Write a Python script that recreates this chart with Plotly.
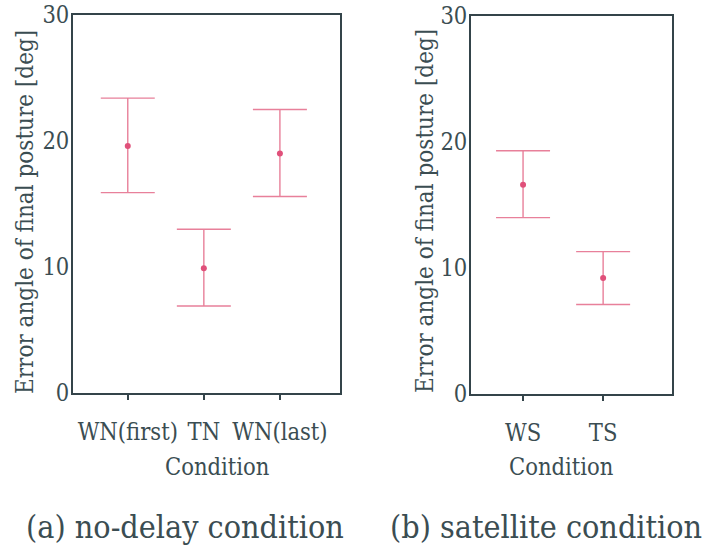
import plotly.graph_objects as go

# ---- data ----
cond_a = ["WN(first)", "TN", "WN(last)"]
mean_a = [19.6, 9.9, 19.0]
upper_a = [23.4, 13.0, 22.5]
lower_a = [15.9, 6.9, 15.6]

cond_b = ["WS", "TS"]
mean_b = [16.6, 9.2]
upper_b = [19.3, 11.3]
lower_b = [14.0, 7.1]

y_ticks = [0, 10, 20, 30]

FONT = "DejaVu Serif Condensed, DejaVu Serif, serif"
TXT = "#3b4d52"
AX = "#34444a"
ERR = "#e8809a"
DOT = "#e0507a"

fig = go.Figure()

def add_panel(cats, mean, up, lo, xa, ya):
    fig.add_trace(go.Scatter(
        x=cats, y=mean, mode="markers", xaxis=xa, yaxis=ya,
        marker=dict(color=DOT, size=6),
        error_y=dict(type="data", symmetric=False,
                     array=[u - m for u, m in zip(up, mean)],
                     arrayminus=[m - l for m, l in zip(mean, lo)],
                     color=ERR, thickness=1.4, width=27),
        showlegend=False))

add_panel(cond_a, mean_a, upper_a, lower_a, "x", "y")
add_panel(cond_b, mean_b, upper_b, lower_b, "x2", "y2")

W, H = 710, 552
def px(x): return x / W
def py(y): return 1 - y / H

xcommon = dict(type="category", showline=True, mirror=True, linecolor=AX, linewidth=2,
               ticks="outside", ticklen=5, tickcolor=AX, tickwidth=1.5,
               showgrid=False, zeroline=False, tickangle=0, ticklabelstandoff=12,
               automargin=False,
               tickfont=dict(family=FONT, size=23.5, color=TXT))
ycommon = dict(range=[0, 30], tickvals=y_ticks, showline=True, mirror=True,
               linecolor=AX, linewidth=2, ticks="", showgrid=False, zeroline=False,
               automargin=False,
               tickfont=dict(family=FONT, size=23.5, color=TXT), ticklabelstandoff=-3)

fig.update_layout(
    width=W, height=H, margin=dict(l=0, r=0, t=0, b=0, autoexpand=False),
    paper_bgcolor="white", plot_bgcolor="white",
    font=dict(family=FONT),
    xaxis=dict(xcommon, domain=[px(73), px(340)], range=[-0.72, 2.79], anchor="y"),
    yaxis=dict(ycommon, domain=[py(393), py(15)], anchor="x"),
    xaxis2=dict(xcommon, domain=[px(471), px(672)], range=[-0.65, 1.86], anchor="y2"),
    yaxis2=dict(ycommon, domain=[py(394), py(16)], anchor="x2"),
)

def ann(text, x, y, size, angle=0):
    fig.add_annotation(text=text, x=px(x), y=py(y), xref="paper", yref="paper",
                       showarrow=False, textangle=angle, xanchor="center", yanchor="middle",
                       font=dict(family=FONT, size=size, color=TXT))

ann("Error angle of final posture [deg]", 25, 212, 24, -90)
ann("Error angle of final posture [deg]", 425, 211, 24, -90)
ann("Condition", 218, 467, 23.5)
ann("Condition", 561, 467, 23.5)
ann("(a) no-delay condition", 185, 527, 32)
ann("(b) satellite condition", 546, 527, 32)

fig.write_html("out.html")
